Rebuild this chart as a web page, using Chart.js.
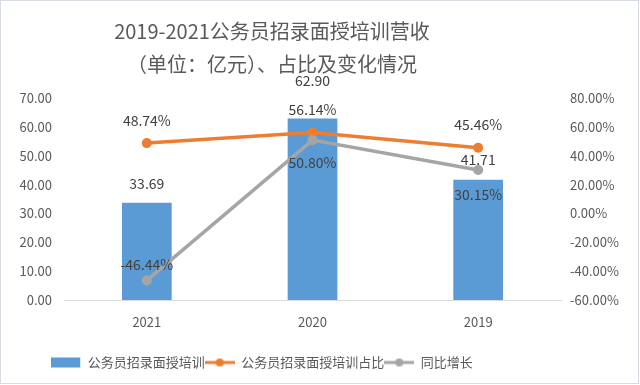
<!DOCTYPE html>
<html>
<head>
<meta charset="utf-8">
<script src="https://cdn.jsdelivr.net/npm/chart.js"></script>
<style>
  html, body { margin: 0; padding: 0; background: #fff; }
</style>
</head>
<body>
<canvas id="chart" width="640" height="385"></canvas>
<script>
const years = ['2021', '2020', '2019'];
const revenue = [33.69, 62.90, 41.71];
const share = [48.74, 56.14, 45.46];
const growth = [-46.44, 50.80, 30.15];
const seriesNames = ['公务员招录面授培训', '公务员招录面授培训占比', '同比增长'];
const titleLines = ['2019-2021公务员招录面授培训营收', '（单位：亿元）、占比及变化情况'];

const FONT = '"Noto Sans CJK SC", "Liberation Sans", sans-serif';
const BLUE = '#5B9BD5';
const ORANGE = '#ED7D31';
const GRAY = '#A5A5A5';
const TEXT = '#595959';

// icone da legenda desenhado num canvas pequeno
function legendIcon(kind, color) {
  const c = document.createElement('canvas');
  c.width = 30;
  c.height = 12;
  const g = c.getContext('2d');
  if (kind === 'bar') {
    g.fillStyle = color;
    g.fillRect(0, 1, 29, 10);
  } else {
    g.strokeStyle = color;
    g.lineWidth = 3;
    g.beginPath();
    g.moveTo(0, 6);
    g.lineTo(30, 6);
    g.stroke();
    g.fillStyle = color;
    g.beginPath();
    g.arc(15, 6, 4, 0, Math.PI * 2);
    g.fill();
  }
  return c;
}

// fundo branco e moldura fina
const backgroundPlugin = {
  id: 'bg',
  beforeDraw(chart) {
    const ctx = chart.ctx;
    ctx.save();
    ctx.fillStyle = '#fff';
    ctx.fillRect(0, 0, chart.width, chart.height);
    ctx.strokeStyle = '#D5DAE3';
    ctx.lineWidth = 1;
    ctx.strokeRect(0.5, 0.5, chart.width - 2, chart.height - 2);
    ctx.restore();
  }
};

// título e legenda ficam um pouco à esquerda, como no original
const shiftBoxes = {
  id: 'shiftBoxes',
  afterLayout(chart, args, opts) {
    if (chart.titleBlock) {
      chart.titleBlock.left += opts.title;
      chart.titleBlock.right += opts.title;
    }
    if (chart.legend) {
      chart.legend.left += opts.legend;
      chart.legend.right += opts.legend;
    }
  }
};

// rótulos de valores
const valueLabels = {
  id: 'valueLabels',
  afterDatasetsDraw(chart, args, opts) {
    const ctx = chart.ctx;
    ctx.save();
    ctx.font = opts.font;
    ctx.fillStyle = opts.color;
    ctx.textAlign = 'center';
    ctx.textBaseline = 'middle';
    chart.data.datasets.forEach((ds, i) => {
      const meta = chart.getDatasetMeta(i);
      meta.data.forEach((el, j) => {
        ctx.fillText(opts.formats[i](ds.data[j]), el.x, el.y + opts.offsets[i][j]);
      });
    });
    ctx.restore();
  }
};

const ctx = document.getElementById('chart').getContext('2d');
new Chart(ctx, {
  type: 'bar',
  data: {
    labels: years,
    datasets: [
      {
        type: 'bar',
        label: seriesNames[0],
        data: revenue,
        backgroundColor: BLUE,
        yAxisID: 'y',
        barPercentage: 0.3,
        categoryPercentage: 1,
        order: 3
      },
      {
        type: 'line',
        label: seriesNames[1],
        data: share,
        borderColor: ORANGE,
        backgroundColor: ORANGE,
        borderWidth: 3.5,
        pointRadius: 5,
        pointBorderWidth: 0,
        yAxisID: 'y1',
        order: 2
      },
      {
        type: 'line',
        label: seriesNames[2],
        data: growth,
        borderColor: GRAY,
        backgroundColor: GRAY,
        borderWidth: 3.5,
        pointRadius: 5,
        pointBorderWidth: 0,
        yAxisID: 'y1',
        order: 1
      }
    ]
  },
  options: {
    responsive: false,
    animation: false,
    layout: { padding: { left: 0, right: 0, top: 0, bottom: 6 } },
    scales: {
      x: {
        offset: true,
        grid: { display: false, drawTicks: false },
        border: { display: true, color: '#D9D9D9', width: 1 },
        ticks: { color: TEXT, font: { family: FONT, size: 13 }, padding: 14 },
        afterFit: s => { s.height = 56; }
      },
      y: {
        position: 'left',
        min: 0,
        max: 70,
        grid: { display: false, drawTicks: false },
        border: { display: false },
        ticks: {
          stepSize: 10,
          color: TEXT,
          padding: 12,
          font: { family: FONT, size: 13 },
          callback: v => v.toFixed(2)
        },
        afterFit: s => { s.width = 64; }
      },
      y1: {
        position: 'right',
        min: -60,
        max: 80,
        grid: { display: false, drawTicks: false },
        border: { display: false },
        ticks: {
          stepSize: 20,
          color: TEXT,
          padding: 9,
          font: { family: FONT, size: 13 },
          callback: v => v.toFixed(2) + '%'
        },
        afterFit: s => { s.width = 79; }
      }
    },
    plugins: {
      title: {
        display: true,
        text: titleLines,
        color: TEXT,
        font: { family: FONT, size: 20, weight: 'normal', lineHeight: 1.65 },
        padding: { top: 15, bottom: 17 }
      },
      legend: {
        position: 'bottom',
        labels: {
          usePointStyle: true,
          pointStyleWidth: 30,
          padding: 0,
          color: TEXT,
          font: { family: FONT, size: 13 },
          generateLabels: chart => chart.data.datasets.map((ds, i) => ({
            text: ds.label,
            fontColor: TEXT,
            pointStyle: legendIcon(ds.type === 'bar' ? 'bar' : 'line', ds.borderColor || ds.backgroundColor),
            datasetIndex: i,
            hidden: !chart.isDatasetVisible(i),
            lineWidth: 0
          }))
        }
      },
      tooltip: { enabled: false },
      shiftBoxes: { title: -48, legend: -58 },
      valueLabels: {
        font: '14px ' + FONT,
        color: '#404040',
        offsets: [[-19, -38, -20], [-22, -23, -23], [-16, 23, 25]],
        formats: [v => v.toFixed(2), v => v.toFixed(2) + '%', v => v.toFixed(2) + '%']
      }
    }
  },
  plugins: [backgroundPlugin, shiftBoxes, valueLabels]
});
</script>
</body>
</html>
